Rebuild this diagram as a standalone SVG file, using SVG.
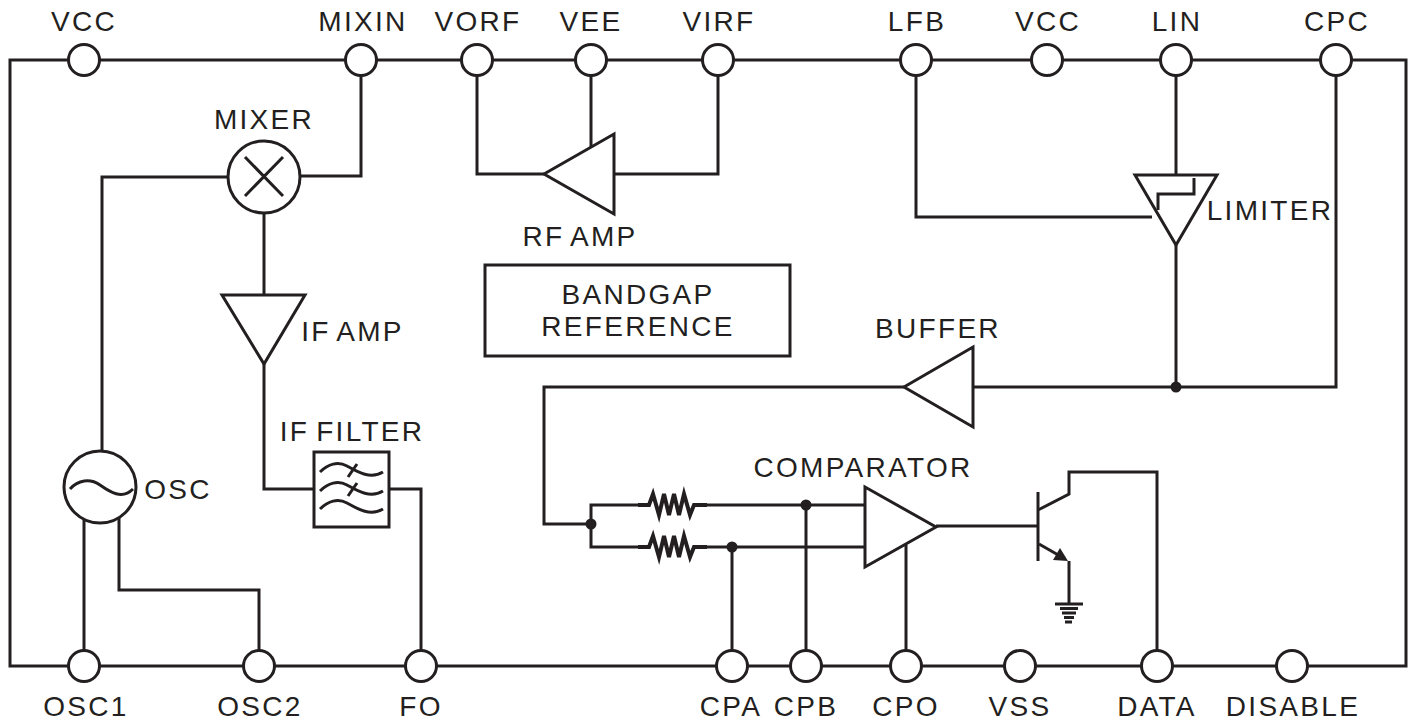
<svg xmlns="http://www.w3.org/2000/svg" width="1415" height="721" viewBox="0 0 1415 721">
<style>
.l{fill:none;stroke:#231f20;stroke-width:3;stroke-linejoin:miter}
.r{fill:none;stroke:#231f20;stroke-width:4;stroke-linejoin:miter}
.t{fill:#fff;stroke:#231f20;stroke-width:3}
.d{fill:#231f20}
text{font-family:"Liberation Sans",Arial,sans-serif;font-size:28px;fill:#231f20;text-anchor:middle;letter-spacing:2.3px;word-spacing:-3px}
</style>
<defs>
<circle id="pin" r="15.5" class="t"/>
<path id="res" class="r" d="M638 0H649L653-11 659 10 664-11 669 10 674-11 679 10 684-11 690 10 694 0H707"/>
<path id="wave" class="l" d="M320 8C328 0 338-3 347 2S370 16 383 8"/>
</defs>
<g id="connectors">
<rect class="l" x="10" y="60" width="1396" height="606"/>
<path class="l" d="M361 60V176H300"/>
<path class="l" d="M228 177H102V451"/>
<path class="l" d="M264 212V295"/>
<path class="l" d="M264 364V489H314"/>
<path class="l" d="M389 489H421V666"/>
<path class="l" d="M84 520V666"/>
<path class="l" d="M119 518V590H259V666"/>
<path class="l" d="M477 60V174H544"/>
<path class="l" d="M591 60V147"/>
<path class="l" d="M718 60V174H614"/>
<path class="l" d="M916 60V217H1152"/>
<path class="l" d="M1176 60V175"/>
<path class="l" d="M1176 245V387"/>
<path class="l" d="M1336 60V387H973"/>
<path class="l" d="M904 387H544V524H591"/>
<path class="l" d="M640 505H591V547H640"/>
<path class="l" d="M707 505H865"/>
<path class="l" d="M707 547H865"/>
<path class="l" d="M806 505V666"/>
<path class="l" d="M732 547V666"/>
<path class="l" d="M906 545V666"/>
<path class="l" d="M936 526H1038"/>
<path class="l" d="M1038 510L1069 494V472H1157V666"/>
<path class="l" d="M1039 544L1060 556"/>
<path class="l" d="M1069 561V604"/>
<circle class="d" cx="1176" cy="387" r="5.5"/>
<circle class="d" cx="591" cy="524" r="5.5"/>
<circle class="d" cx="806" cy="505" r="5.5"/>
<circle class="d" cx="732" cy="547" r="5.5"/>
</g>
<g id="pin-vcc1"><use href="#pin" x="84" y="60"/><text x="84" y="31">VCC</text></g>
<g id="pin-mixin"><use href="#pin" x="361" y="60"/><text x="363" y="31">MIXIN</text></g>
<g id="pin-vorf"><use href="#pin" x="477" y="60"/><text x="478" y="31">VORF</text></g>
<g id="pin-vee"><use href="#pin" x="591" y="60"/><text x="591" y="31">VEE</text></g>
<g id="pin-virf"><use href="#pin" x="718" y="60"/><text x="719" y="31">VIRF</text></g>
<g id="pin-lfb"><use href="#pin" x="916" y="60"/><text x="917" y="31">LFB</text></g>
<g id="pin-vcc2"><use href="#pin" x="1047" y="60"/><text x="1048" y="31">VCC</text></g>
<g id="pin-lin"><use href="#pin" x="1176" y="60"/><text x="1177" y="31">LIN</text></g>
<g id="pin-cpc"><use href="#pin" x="1336" y="60"/><text x="1337" y="31">CPC</text></g>
<g id="pin-osc1"><use href="#pin" x="84" y="666"/><text x="86" y="716">OSC1</text></g>
<g id="pin-osc2"><use href="#pin" x="259" y="666"/><text x="260" y="716">OSC2</text></g>
<g id="pin-fo"><use href="#pin" x="421" y="666"/><text x="421" y="716">FO</text></g>
<g id="pin-cpa"><use href="#pin" x="732" y="666"/><text x="731" y="716">CPA</text></g>
<g id="pin-cpb"><use href="#pin" x="806" y="666"/><text x="806" y="716">CPB</text></g>
<g id="pin-cpo"><use href="#pin" x="906" y="666"/><text x="906" y="716">CPO</text></g>
<g id="pin-vss"><use href="#pin" x="1020" y="666"/><text x="1020" y="716">VSS</text></g>
<g id="pin-data"><use href="#pin" x="1157" y="666"/><text x="1157" y="716">DATA</text></g>
<g id="pin-disable"><use href="#pin" x="1292" y="666"/><text x="1293" y="716">DISABLE</text></g>
<g id="mixer">
<circle class="t" cx="264" cy="177" r="36"/>
<path class="l" d="M245 157L283 196M283 157L245 196"/>
<text x="264" y="129">MIXER</text>
</g>
<g id="if-amp">
<polygon class="t" points="222,295 305,295 264,364"/>
<text x="352.500" y="341">IF AMP</text>
</g>
<g id="if-filter">
<rect class="t" x="314" y="452" width="75" height="75"/>
<use href="#wave" y="464"/><use href="#wave" y="483"/><use href="#wave" y="501"/>
<path class="l" d="M348 477L357 464M348 496L357 483"/>
<text x="352" y="441">IF FILTER</text>
</g>
<g id="osc">
<circle class="t" cx="100" cy="487" r="36"/>
<path class="l" d="M70 489C78 480 90 478 100 485S122 500 133 489"/>
<text x="178" y="499">OSC</text>
</g>
<g id="rf-amp">
<polygon class="t" points="544,174 614,134 614,214"/>
<text x="580" y="246">RF AMP</text>
</g>
<g id="bandgap">
<rect class="l" x="485" y="265" width="305" height="91"/>
<text x="638" y="304">BANDGAP</text>
<text x="638" y="336">REFERENCE</text>
</g>
<g id="limiter">
<polygon class="t" points="1135,175 1217,175 1176,245"/>
<path class="l" d="M1194 178V194H1158V210"/>
<text x="1270" y="220">LIMITER</text>
</g>
<g id="buffer">
<polygon class="t" points="904,387 973,347 973,427"/>
<text x="938" y="338">BUFFER</text>
</g>
<g id="resistors">
<use href="#res" y="505"/>
<use href="#res" y="547"/>
</g>
<g id="comparator">
<polygon class="t" points="865,487 865,567 936,527"/>
<text x="863" y="477">COMPARATOR</text>
</g>
<g id="transistor">
<path class="l" d="M1038 492V561"/>
<polygon class="d" points="1068,561 1053,560 1060,548"/>
<path class="l" d="M1055 604H1083M1060 608.500H1078M1062 613H1076M1064 617.500H1074M1065 622H1072"/>
</g>
</svg>
